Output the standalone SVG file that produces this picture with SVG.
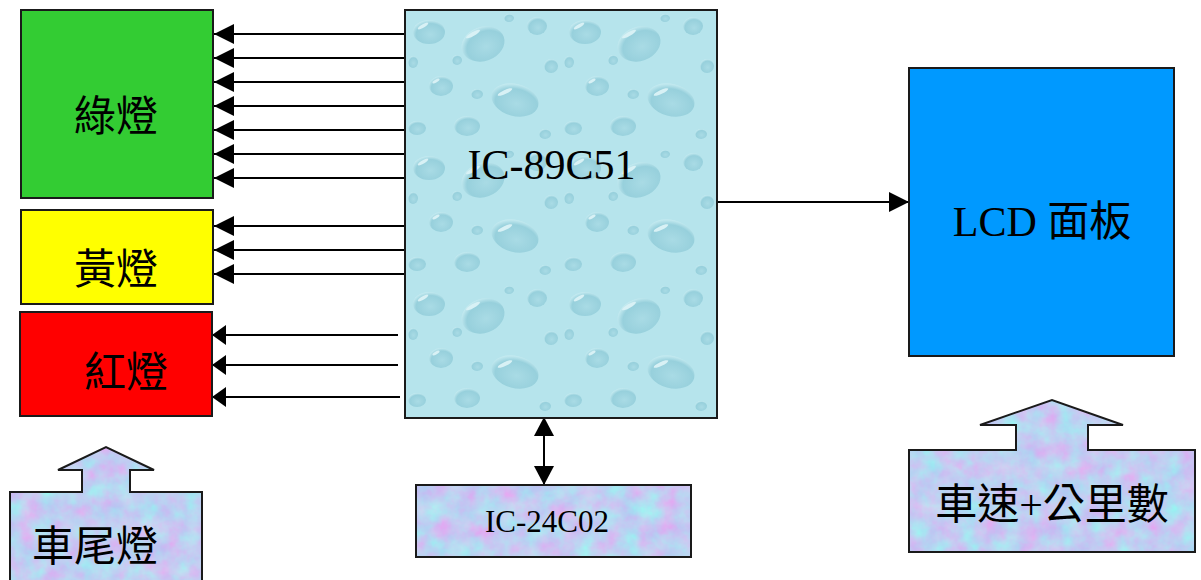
<svg xmlns="http://www.w3.org/2000/svg" width="1201" height="580" viewBox="0 0 1201 580">
<style>
.box{stroke:#1a1a1a;stroke-width:2}
.ln{stroke:#000;stroke-width:2;fill:none}
.cjk{font-family:"Liberation Serif","Noto Sans CJK TC",serif;font-size:42px;fill:#000;text-anchor:middle}
.lat{font-family:"Liberation Serif","Noto Sans CJK TC",serif;fill:#000;text-anchor:middle}
.d{fill:url(#drop)}
.h{fill:#d8f1f5}
</style>
<defs>
<marker id="ah" markerUnits="userSpaceOnUse" viewBox="0 0 20 20" refX="20" refY="10" markerWidth="20" markerHeight="20" orient="auto"><path d="M0,0 L20,10 L0,20 z" fill="#000"/></marker>
<marker id="ahs" markerUnits="userSpaceOnUse" viewBox="0 0 14 20" refX="14" refY="10" markerWidth="14" markerHeight="20" orient="auto"><path d="M0,0 L14,10 L0,20 z" fill="#000"/></marker>
<marker id="ahd" markerUnits="userSpaceOnUse" viewBox="0 0 19 20" refX="19" refY="10" markerWidth="19" markerHeight="20" orient="auto-start-reverse"><path d="M0,0 L19,10 L0,20 z" fill="#000"/></marker>
<radialGradient id="drop" cx="0.55" cy="0.6" r="0.6">
<stop offset="0" stop-color="#a9dbe5"/>
<stop offset="0.75" stop-color="#97d0dc"/>
<stop offset="1" stop-color="#c4eaf0"/>
</radialGradient>
<pattern id="water" patternUnits="userSpaceOnUse" x="405" y="10" width="156" height="136">
<rect width="156" height="136" fill="#b6e4ec"/>
<ellipse class="d" cx="24" cy="22" rx="16" ry="12"/>
<ellipse class="h" cx="18" cy="16" rx="6" ry="1.8" transform="rotate(-30 18 16)"/>
<ellipse class="d" cx="78" cy="34" rx="22" ry="17" transform="rotate(-20 78 34)"/>
<ellipse class="h" cx="68" cy="24" rx="8" ry="2" transform="rotate(-30 68 24)"/>
<ellipse class="d" cx="132" cy="16" rx="10" ry="9"/>
<ellipse class="d" cx="36" cy="76" rx="12" ry="10"/>
<ellipse class="h" cx="31" cy="71" rx="4" ry="1.5" transform="rotate(-30 31 71)"/>
<ellipse class="d" cx="110" cy="90" rx="24" ry="16" transform="rotate(15 110 90)"/>
<ellipse class="h" cx="100" cy="82" rx="8" ry="2" transform="rotate(-25 100 82)"/>
<ellipse class="d" cx="12" cy="118" rx="9" ry="7"/>
<ellipse class="d" cx="62" cy="116" rx="13" ry="10"/>
<ellipse class="d" cx="146" cy="56" rx="7" ry="7"/>
<ellipse class="d" cx="52" cy="50" rx="5" ry="5"/>
<ellipse class="d" cx="8" cy="52" rx="5" ry="6"/>
<ellipse class="d" cx="72" cy="84" rx="6" ry="5"/>
<ellipse class="d" cx="140" cy="124" rx="6" ry="5"/>
<ellipse class="d" cx="104" cy="8" rx="5" ry="4"/>
</pattern>
<filter id="marble" x="0" y="0" width="1" height="1" color-interpolation-filters="sRGB">
<feTurbulence type="fractalNoise" baseFrequency="0.05" numOctaves="4" seed="3" result="t"/>
<feColorMatrix in="t" type="matrix" values="0.3 -0.18 0 0 0.69  -0.18 0.3 0 0 0.75  0 0 0 0 0.95  0 0 0 0 1" result="c"/>
<feComposite in="c" in2="SourceAlpha" operator="in"/>
</filter>
</defs>

<g id="connectors">
<line class="ln" x1="405" y1="34" x2="214" y2="34" marker-end="url(#ah)"/>
<line class="ln" x1="405" y1="58" x2="214" y2="58" marker-end="url(#ah)"/>
<line class="ln" x1="405" y1="82" x2="214" y2="82" marker-end="url(#ah)"/>
<line class="ln" x1="405" y1="106" x2="214" y2="106" marker-end="url(#ah)"/>
<line class="ln" x1="405" y1="130" x2="214" y2="130" marker-end="url(#ah)"/>
<line class="ln" x1="405" y1="154" x2="214" y2="154" marker-end="url(#ah)"/>
<line class="ln" x1="405" y1="178" x2="214" y2="178" marker-end="url(#ah)"/>
<line class="ln" x1="405" y1="226" x2="214" y2="226" marker-end="url(#ah)"/>
<line class="ln" x1="405" y1="250" x2="214" y2="250" marker-end="url(#ah)"/>
<line class="ln" x1="405" y1="274" x2="214" y2="274" marker-end="url(#ah)"/>
<line class="ln" x1="398" y1="335" x2="212" y2="335" marker-end="url(#ahs)"/>
<line class="ln" x1="398" y1="365" x2="212" y2="365" marker-end="url(#ahs)"/>
<line class="ln" x1="400" y1="397" x2="212" y2="397" marker-end="url(#ahs)"/>
<line class="ln" x1="717" y1="202" x2="909" y2="202" marker-end="url(#ah)"/>
<line class="ln" x1="544" y1="417" x2="544" y2="485" marker-start="url(#ahd)" marker-end="url(#ahd)"/>
</g>

<g id="green">
<rect class="box" x="21" y="10" width="192" height="188" fill="#33cc33"/>
<text class="cjk" x="116" y="131">綠燈</text>
</g>
<g id="yellow">
<rect class="box" x="21" y="210" width="192" height="94" fill="#ffff00"/>
<text class="cjk" x="116" y="284">黃燈</text>
</g>
<g id="red">
<rect class="box" x="20" y="312" width="192" height="104" fill="#ff0000"/>
<text class="cjk" x="126" y="387">紅燈</text>
</g>
<g id="mcu">
<rect class="box" x="405" y="10" width="312" height="408" fill="url(#water)"/>
<text class="lat" x="551.5" y="179" font-size="42">IC-89C51</text>
</g>
<g id="eeprom">
<rect x="416" y="485" width="275" height="72" fill="#000" filter="url(#marble)"/>
<rect class="box" x="416" y="485" width="275" height="72" fill="none"/>
<text class="lat" x="547" y="532" font-size="31">IC-24C02</text>
</g>
<g id="lcd">
<rect class="box" x="909" y="68" width="265" height="288" fill="#0099ff"/>
<text class="cjk" x="1042" y="236">LCD 面板</text>
</g>
<g id="taillight">
<polygon points="10,492 82,492 82,470 58,470 106,447 154,470 130,470 130,492 202,492 202,584 10,584" fill="#000" filter="url(#marble)"/>
<polygon class="box" points="10,492 82,492 82,470 58,470 106,447 154,470 130,470 130,492 202,492 202,584 10,584" fill="none"/>
<text class="cjk" x="95" y="561">車尾燈</text>
</g>
<g id="speed">
<polygon points="909,450 1016,450 1016,425 980,425 1052,400 1123,425 1088,425 1088,450 1195,450 1195,552 909,552" fill="#000" filter="url(#marble)"/>
<polygon class="box" points="909,450 1016,450 1016,425 980,425 1052,400 1123,425 1088,425 1088,450 1195,450 1195,552 909,552" fill="none"/>
<text class="cjk" x="1052" y="519">車速+公里數</text>
</g>
</svg>
